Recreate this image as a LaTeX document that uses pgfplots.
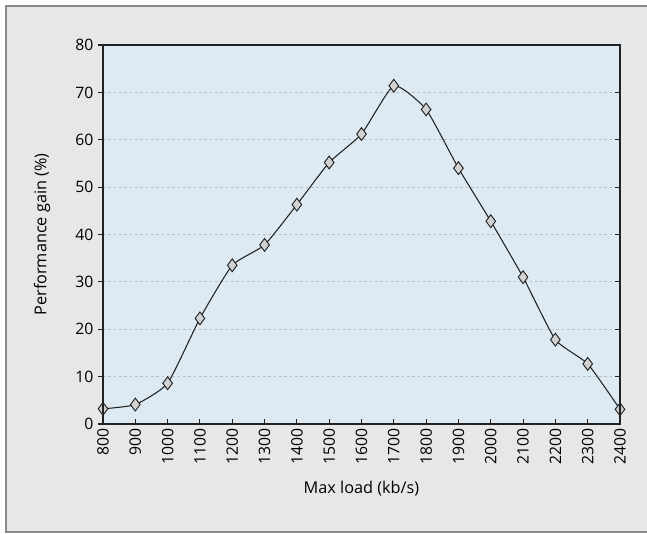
\documentclass[border=0pt]{standalone}
\usepackage{pgfplots}
\pgfplotsset{compat=1.18}
\usepackage{fontspec}
\setmainfont{Open Sans}
\definecolor{outerbg}{HTML}{E6E7E8}
\definecolor{framec}{HTML}{8A8A8A}
\definecolor{plotbg}{HTML}{DDEAF3}
\definecolor{gridc}{HTML}{BDBDBD}
\definecolor{linec}{HTML}{222222}
\definecolor{markc}{HTML}{D2D2D2}
\begin{document}
\begin{tikzpicture}[x=1pt,y=1pt]
\useasboundingbox (0,0) rectangle (485.25,-399.75);
\fill[outerbg] (4.5,-4.5) rectangle (485.25,-399);
\draw[framec,line width=1.2pt] (485.25,-4.5) -- (4.5,-4.5) -- (4.5,-399) -- (485.25,-399);
\begin{axis}[
  at={(77.25pt,-33.75pt)}, anchor=north west,
  scale only axis, width=387.75pt, height=284.25pt,
  xmin=800, xmax=2400, ymin=0, ymax=80,
  xtick={800,900,...,2400}, ytick={0,10,...,80},
  /pgf/number format/assume math mode=true,
  /pgf/number format/1000 sep={},
  xticklabel style={rotate=90, anchor=east, font=\fontsize{11.8}{12}\selectfont},
  yticklabel style={font=\fontsize{11.8}{12}\selectfont},
  xtick pos=bottom, ytick pos=left,
  xtick align=inside, ytick align=outside,
  major tick length=3.75pt,
  tick style={linec, line width=0.8pt},
  axis line style={linec, line width=0.8pt},
  axis background/.style={fill=plotbg},
  ymajorgrids, grid style={gridc, dash pattern=on 2pt off 2pt, line width=0.6pt},
  xlabel={Max load (kb/s)}, ylabel={Performance gain (\%)},
  xlabel style={font=\fontsize{12.2}{13}\selectfont, at={(axis description cs:0.5,-0.1715)}, anchor=center},
  ylabel style={font=\fontsize{12.2}{13}\selectfont, at={(axis description cs:-0.118,0.5)}, anchor=center},
]
\addplot[linec, line width=0.8pt, smooth, tension=0.3, mark=diamond*, mark size=4.8pt,
  mark options={fill=markc, draw=linec, line width=0.7pt}] coordinates {
(800,3.2) (900,4.1) (1000,8.6) (1100,22.3) (1200,33.5) (1300,37.8) (1400,46.3)
(1500,55.2) (1600,61.2) (1700,71.4) (1800,66.4) (1900,54.0) (2000,42.8)
(2100,31.0) (2200,17.8) (2300,12.7) (2400,3.1)
};
\end{axis}
\begin{axis}[
  at={(77.25pt,-33.75pt)}, anchor=north west,
  scale only axis, width=387.75pt, height=284.25pt,
  xmin=800, xmax=2400, ymin=0, ymax=80,
  xtick=\empty, ytick={0,10,...,80}, yticklabels={},
  ytick pos=right, ytick align=inside,
  major tick length=3.75pt,
  tick style={linec, line width=0.8pt},
  axis line style={linec, line width=0.8pt},
]
\end{axis}
\end{tikzpicture}
\end{document}
